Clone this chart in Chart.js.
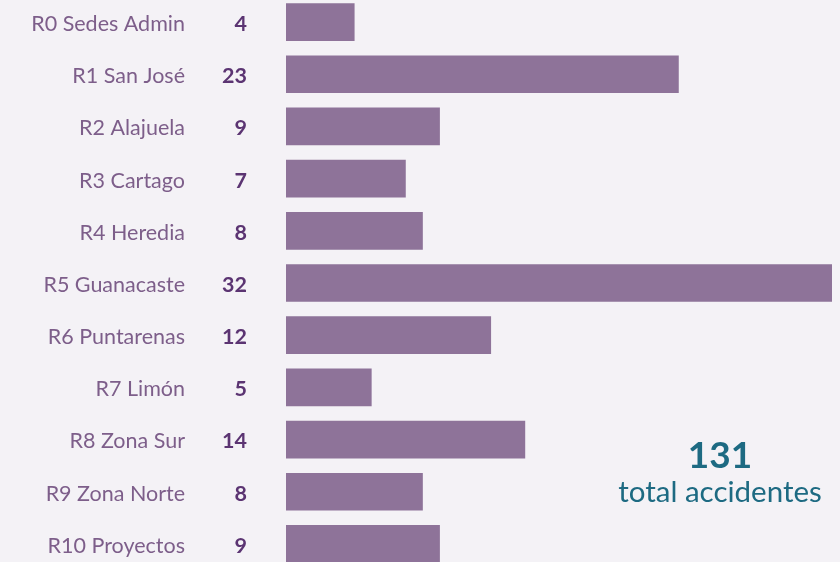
<!DOCTYPE html>
<html>
<head>
<meta charset="utf-8">
<script src="https://cdn.jsdelivr.net/npm/chart.js@4"></script>
<style>
  html, body { margin: 0; padding: 0; background: #f4f2f6; overflow: hidden; }
  #wrap { position: absolute; left: 0; top: -4px; width: 840px; height: 574px; }
</style>
</head>
<body>
<div id="wrap"><canvas id="accChart"></canvas></div>
<script>
const regions = ['R0 Sedes Admin', 'R1 San José', 'R2 Alajuela', 'R3 Cartago', 'R4 Heredia',
  'R5 Guanacaste', 'R6 Puntarenas', 'R7 Limón', 'R8 Zona Sur', 'R9 Zona Norte', 'R10 Proyectos'];
const accidents = [4, 23, 9, 7, 8, 32, 12, 5, 14, 8, 9];
const totalLabel = ['131', 'total accidentes'];

const FONT = 'Lato, "Open Sans", sans-serif';

// draws region names, counts and the total box
const sideText = {
  id: 'sideText',
  afterDraw(chart) {
    const ctx = chart.ctx;
    const y = chart.scales.y;
    ctx.save();
    ctx.textBaseline = 'middle';
    ctx.textAlign = 'right';
    regions.forEach((name, i) => {
      const py = y.getPixelForValue(i);
      ctx.font = '21.5px ' + FONT;
      ctx.fillStyle = '#7d5e8a';
      ctx.fillText(name, 185, py + 2);
      ctx.font = 'bold 21.5px ' + FONT;
      ctx.fillStyle = '#5b3472';
      ctx.fillText(String(accidents[i]), 247, py + 2);
    });
    ctx.textAlign = 'center';
    ctx.fillStyle = '#1d6a82';
    ctx.font = 'bold 37px ' + FONT;
    ctx.fillText(totalLabel[0], 720, 460);
    ctx.font = '29.5px ' + FONT;
    ctx.fillText(totalLabel[1], 720, 496);
    ctx.restore();
  }
};

new Chart(document.getElementById('accChart'), {
  type: 'bar',
  data: {
    labels: regions,
    datasets: [{
      data: accidents,
      backgroundColor: '#8e7399',
      borderWidth: 0,
      barThickness: 37
    }]
  },
  options: {
    indexAxis: 'y',
    responsive: true,
    maintainAspectRatio: false,
    animation: false,
    layout: { padding: { left: 286, right: 8, top: 0, bottom: 0 } },
    scales: {
      x: { display: false, min: 0, max: 32 },
      y: { display: false }
    },
    plugins: {
      legend: { display: false },
      tooltip: { enabled: false }
    }
  },
  plugins: [sideText]
});
</script>
</body>
</html>
